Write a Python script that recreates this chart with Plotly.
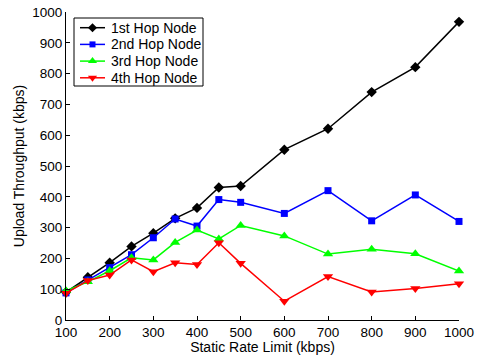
import plotly.graph_objects as go

rate_limit = [100, 150, 200, 250, 300, 350, 400, 450, 500, 600, 700, 800, 900, 1000]

hop1 = [90, 139, 186, 239, 282, 330, 364, 430, 435, 553, 621, 740, 821, 968]
hop2 = [88, 130, 170, 212, 267, 328, 305, 391, 382, 346, 420, 322, 406, 320]
hop3 = [95, 124, 160, 202, 195, 252, 292, 263, 307, 273, 214, 230, 215, 159]
hop4 = [87, 128, 146, 195, 157, 186, 180, 251, 184, 61, 141, 91, 102, 118]

series_names = ["1st Hop Node", "2nd Hop Node", "3rd Hop Node", "4th Hop Node"]
series_values = [hop1, hop2, hop3, hop4]
series_colors = ["#000000", "#0000ff", "#00ff00", "#ff0000"]
series_symbols = ["diamond", "square", "triangle-up", "triangle-down"]
series_msizes = [8, 7, 9, 9]

FONT = "Liberation Sans, Arial, sans-serif"
W, H = 479, 355
ML, MR, MT, MB = 66, 20, 12, 35
PW, PH = W - ML - MR, H - MT - MB

fig = go.Figure()
for name, vals, color, symbol, ms in zip(series_names, series_values, series_colors,
                                         series_symbols, series_msizes):
    fig.add_trace(go.Scatter(
        x=rate_limit, y=vals, name=name, mode="lines+markers",
        line=dict(color=color, width=1.5),
        marker=dict(symbol=symbol, size=ms, color=color),
        cliponaxis=False, showlegend=False,
    ))

# Compact boxed legend drawn on an overlay axis measured in pixels from the
# top-left corner of the plotting area.
box_l, box_r, box_t, box_b = 8, 137, 6, 74
row_h = 16.7
row0 = 15.7
line_x0, line_x1, text_x = 14, 39, 42.5

fig.add_trace(go.Scatter(
    x=[box_l, box_r, box_r, box_l, box_l], y=[box_t, box_t, box_b, box_b, box_t],
    mode="lines", fill="toself", fillcolor="white",
    line=dict(color="black", width=1), xaxis="x2", yaxis="y2",
    hoverinfo="skip", showlegend=False,
))
annotations = []
for i, (name, color, symbol, ms) in enumerate(zip(series_names, series_colors,
                                                  series_symbols, series_msizes)):
    ry = row0 + i * row_h
    fig.add_trace(go.Scatter(
        x=[line_x0, line_x1], y=[ry, ry], mode="lines",
        line=dict(color=color, width=1.5), xaxis="x2", yaxis="y2",
        hoverinfo="skip", showlegend=False,
    ))
    fig.add_trace(go.Scatter(
        x=[(line_x0 + line_x1) / 2], y=[ry], mode="markers",
        marker=dict(symbol=symbol, size=ms - 1, color=color), xaxis="x2", yaxis="y2",
        hoverinfo="skip", showlegend=False,
    ))
    annotations.append(dict(
        x=text_x, y=ry, xref="x2", yref="y2", text=name, showarrow=False,
        xanchor="left", yanchor="middle", font=dict(family=FONT, size=14, color="black"),
    ))

fig.update_layout(
    width=W, height=H,
    margin=dict(l=ML, r=MR, t=MT, b=MB, autoexpand=False),
    paper_bgcolor="white", plot_bgcolor="white",
    font=dict(family=FONT, size=13.5, color="black"),
    showlegend=False,
    annotations=annotations,
    xaxis=dict(
        range=[100, 1000], tickvals=[100, 200, 300, 400, 500, 600, 700, 800, 900, 1000],
        showgrid=False, zeroline=False, showline=True, linecolor="black", linewidth=1,
        ticks="inside", ticklen=4, tickcolor="black", automargin=False,
        tickfont=dict(size=13.5),
        title=dict(text="Static Rate Limit (kbps)", standoff=0, font=dict(size=14)),
    ),
    yaxis=dict(
        range=[0, 1000], dtick=100,
        showgrid=False, zeroline=False, showline=True, linecolor="black", linewidth=1,
        ticks="inside", ticklen=4, tickcolor="black", automargin=False,
        tickfont=dict(size=13.5),
        title=dict(text="Upload Throughput (kbps)", standoff=4, font=dict(size=14)),
    ),
    xaxis2=dict(range=[0, PW], overlaying="x", visible=False, fixedrange=True),
    yaxis2=dict(range=[PH, 0], overlaying="y", visible=False, fixedrange=True),
)

fig.write_html("out.html")
